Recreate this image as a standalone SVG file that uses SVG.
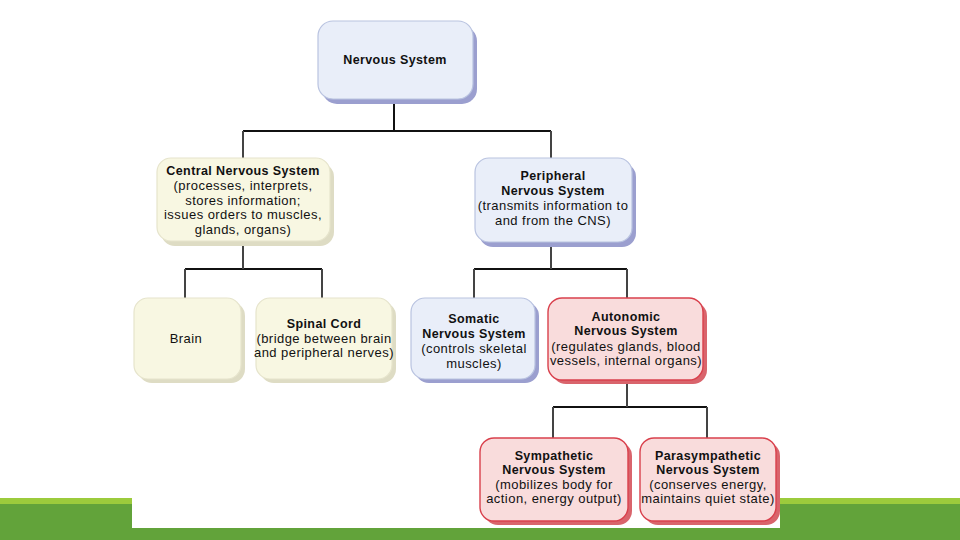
<svg xmlns="http://www.w3.org/2000/svg" width="960" height="540" viewBox="0 0 960 540">
<style>
text{font-family:"Liberation Sans",Arial,sans-serif;font-size:13px;letter-spacing:0.45px;fill:#111;text-anchor:middle}
.b{font-weight:bold;font-size:12.5px;letter-spacing:0.4px}
.blue .sh{fill:#9b9fcf}
.blue .bx{fill:#e9eef9;stroke:#b9c3e0;stroke-width:1.2}
.cream .sh{fill:#dedcc4}
.cream .bx{fill:#f8f7e2;stroke:#e6e4cc;stroke-width:1.2}
.red .sh{fill:#d9646c}
.red .bx{fill:#f9dcdc;stroke:#d9404c;stroke-width:1.4}
.ln{stroke:#111;stroke-width:2;fill:none}
.lv{stroke:#444;stroke-width:2;fill:none}
</style>
<rect width="960" height="540" fill="#fff"/>
<g id="bar">
<rect x="0" y="498" width="132" height="42" fill="#62a33a"/>
<rect x="0" y="498" width="132" height="6" fill="#9ccb3c"/>
<rect x="780" y="498" width="180" height="42" fill="#62a33a"/>
<rect x="780" y="498" width="180" height="6" fill="#9ccb3c"/>
<rect x="0" y="528" width="960" height="12" fill="#62a33a"/>
</g>
<g id="connectors">
<path class="ln" d="M394 100V131M243 131H551M185 269H322M474 269H627M553 407H707"/>
<path class="lv" d="M243 131V160M551 131V160M243 243V269M185 269V298M322 269V298M551 245V269M474 269V298M627 269V298M627 381V407M553 407V438M707 407V438"/>
</g>
<g id="nervous" class="blue">
<rect class="sh" x="322" y="26" width="155" height="78" rx="15"/>
<rect class="bx" x="318" y="21" width="155" height="78" rx="15"/>
<text class="b" x="395" y="64">Nervous System</text>
</g>
<g id="cns" class="cream">
<rect class="sh" x="161" y="163" width="173" height="83" rx="14"/>
<rect class="bx" x="157" y="158" width="173" height="83" rx="14"/>
<text class="b" x="243" y="175">Central Nervous System</text>
<text x="243" y="190">(processes, interprets,</text>
<text x="243" y="205">stores information;</text>
<text x="243" y="219">issues orders to muscles,</text>
<text x="243" y="234">glands, organs)</text>
</g>
<g id="pns" class="blue">
<rect class="sh" x="479" y="163" width="157" height="84" rx="14"/>
<rect class="bx" x="475" y="158" width="157" height="84" rx="14"/>
<text class="b" x="553" y="180">Peripheral</text>
<text class="b" x="553" y="195">Nervous System</text>
<text x="553" y="210">(transmits information to</text>
<text x="553" y="225">and from the CNS)</text>
</g>
<g id="brain" class="cream">
<rect class="sh" x="138" y="302" width="107" height="81" rx="14"/>
<rect class="bx" x="134" y="298" width="107" height="81" rx="14"/>
<text x="186" y="343">Brain</text>
</g>
<g id="spinal" class="cream">
<rect class="sh" x="260" y="302" width="136" height="81" rx="14"/>
<rect class="bx" x="256" y="298" width="136" height="81" rx="14"/>
<text class="b" x="324" y="328">Spinal Cord</text>
<text x="324" y="343">(bridge between brain</text>
<text x="324" y="357">and peripheral nerves)</text>
</g>
<g id="somatic" class="blue">
<rect class="sh" x="415" y="302" width="124" height="81" rx="14"/>
<rect class="bx" x="411" y="298" width="124" height="81" rx="14"/>
<text class="b" x="474" y="323">Somatic</text>
<text class="b" x="474" y="338">Nervous System</text>
<text x="474" y="353">(controls skeletal</text>
<text x="474" y="368">muscles)</text>
</g>
<g id="autonomic" class="red">
<rect class="sh" x="552" y="302" width="155" height="82" rx="14"/>
<rect class="bx" x="548" y="298" width="155" height="82" rx="14"/>
<text class="b" x="626" y="321">Autonomic</text>
<text class="b" x="626" y="335">Nervous System</text>
<text x="626" y="351">(regulates glands, blood</text>
<text x="626" y="365">vessels, internal organs)</text>
</g>
<g id="sympathetic" class="red">
<rect class="sh" x="484" y="442" width="148" height="83" rx="14"/>
<rect class="bx" x="480" y="438" width="148" height="83" rx="14"/>
<text class="b" x="554" y="460">Sympathetic</text>
<text class="b" x="554" y="474">Nervous System</text>
<text x="554" y="489">(mobilizes body for</text>
<text x="554" y="503">action, energy output)</text>
</g>
<g id="parasympathetic" class="red">
<rect class="sh" x="644" y="442" width="136" height="83" rx="14"/>
<rect class="bx" x="640" y="438" width="136" height="83" rx="14"/>
<text class="b" x="708" y="460">Parasympathetic</text>
<text class="b" x="708" y="474">Nervous System</text>
<text x="708" y="489">(conserves energy,</text>
<text x="708" y="503">maintains quiet state)</text>
</g>
</svg>
